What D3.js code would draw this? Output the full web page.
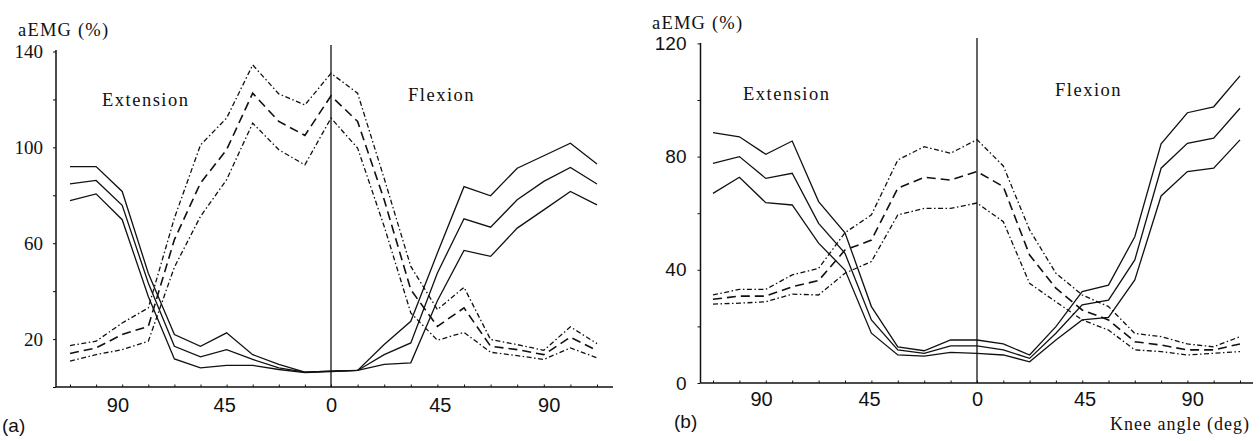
<!DOCTYPE html>
<html>
<head>
<meta charset="utf-8">
<script src="https://cdn.jsdelivr.net/npm/d3@7"></script>
<style>
  body { margin: 0; background: #fff; }
  svg { display: block; }
  .serif { font-family: 'Liberation Serif', 'DejaVu Serif', serif; fill: #111; }
  .sans { font-family: 'Liberation Sans', 'Open Sans', sans-serif; fill: #111; }
</style>
</head>
<body>
<svg id="chart"></svg>
<script>
// knee angle: negative = extension side, positive = flexion side
const angles = [-110, -99, -88, -77, -66, -55, -44, -33, -22, -11, 0,
  11, 22, 33, 44, 55, 66, 77, 88, 99, 110];
const xTickValues = [-90, -45, 0, 45, 90];

// panel (a)
const aYTicks = [0, 20, 40, 60, 80, 100, 120, 140];
const aYLabels = [20, 60, 100, 140];
const aSolidUpper = [92.0, 92.0, 81.6, 47.5, 21.9, 17.0, 22.6, 13.5, 9.4, 6.2, 6.6, 6.9, 17.7, 27.4, 55.9, 83.6, 79.8, 91.3, 96.5, 101.7, 93.1];
const aSolidMean = [84.8, 86.2, 75.8, 43.4, 17.0, 12.6, 15.6, 11.5, 8.0, 6.2, 6.6, 6.9, 13.5, 18.4, 47.6, 70.2, 66.7, 78.1, 85.8, 91.6, 84.7];
const aSolidLower = [77.8, 80.6, 69.8, 37.8, 11.7, 8.0, 9.0, 9.0, 7.3, 6.0, 6.4, 6.9, 9.4, 10.1, 36.0, 57.0, 54.5, 66.3, 73.9, 81.6, 76.0];
const aDashUpper = [17.3, 19.1, 26.7, 33.0, 70.5, 101.0, 112.2, 134.4, 122.3, 117.7, 130.9, 122.6, 87.0, 50.3, 32.3, 41.6, 19.8, 17.7, 15.3, 25.1, 18.1];
const aDashMean = [14.0, 16.3, 21.9, 25.3, 61.5, 85.1, 99.0, 122.6, 110.8, 105.0, 121.5, 110.8, 78.1, 40.6, 25.3, 33.0, 17.0, 15.6, 13.5, 20.8, 15.2];
const aDashLower = [10.8, 13.5, 15.6, 19.1, 50.0, 71.2, 86.5, 110.1, 99.0, 92.7, 112.2, 99.7, 67.0, 30.9, 19.5, 22.8, 14.5, 13.1, 11.5, 16.3, 12.2];

// panel (b)
const bYTicks = [0, 20, 40, 60, 80, 100, 120];
const bYLabels = [0, 40, 80, 120];
const bSolidUpper = [88.5, 87.0, 80.8, 85.5, 64.1, 53.1, 27.0, 12.8, 11.4, 15.2, 15.2, 13.8, 9.9, 19.9, 32.3, 34.6, 51.7, 84.5, 95.5, 97.6, 108.5];
const bSolidMean = [77.6, 80.0, 72.3, 74.1, 56.4, 45.8, 22.3, 11.7, 10.5, 13.1, 13.1, 11.7, 8.7, 17.6, 27.6, 29.3, 43.5, 75.9, 84.7, 86.5, 97.1];
const bSolidLower = [67.0, 72.7, 63.7, 62.9, 49.4, 39.9, 17.6, 9.9, 9.5, 10.8, 10.5, 9.9, 7.5, 15.2, 22.3, 23.2, 36.4, 66.1, 74.7, 75.9, 85.9];
const bDashUpper = [31.1, 33.1, 33.1, 38.2, 40.5, 53.1, 59.4, 78.8, 83.5, 81.2, 86.0, 76.7, 54.1, 38.8, 31.1, 27.0, 17.5, 16.4, 13.8, 12.8, 16.4];
const bDashMean = [29.6, 30.7, 30.7, 34.0, 36.2, 47.0, 50.5, 68.8, 72.7, 71.7, 74.7, 69.4, 45.2, 33.5, 25.8, 22.3, 14.6, 13.4, 11.7, 11.7, 13.8];
const bDashLower = [27.9, 28.2, 28.7, 31.4, 31.1, 38.8, 42.9, 59.4, 61.7, 61.7, 63.6, 57.0, 35.2, 28.7, 22.3, 18.7, 11.7, 11.1, 9.9, 10.5, 11.1];

const width = 1260;
const height = 441;

const svg = d3.select('#chart').attr('width', width).attr('height', height);

// line styles: solid band, dash-dot band edges, dashed mean
const styles = {
  solid: null,
  dashdot: '5,2.5,1.5,2.5',
  dashed: '9,5',
};

function drawPanel(p) {
  const g = svg.append('g');

  const x = d3.scaleLinear().domain([-110, 0, 110]).range(p.xRange);
  const y = d3.scaleLinear().domain(p.yDomain).range(p.yRange);

  // axis lines
  g.append('line')
    .attr('x1', p.axisX).attr('x2', p.axisX)
    .attr('y1', p.axisTop).attr('y2', y(0))
    .attr('stroke', '#111').attr('stroke-width', 1.5);
  g.append('line')
    .attr('x1', p.axisX).attr('x2', p.axisRight)
    .attr('y1', y(0)).attr('y2', y(0))
    .attr('stroke', '#111').attr('stroke-width', 1.5);

  // vertical line at 0 deg
  g.append('line')
    .attr('x1', x(0)).attr('x2', x(0))
    .attr('y1', p.zeroTop).attr('y2', y(0))
    .attr('stroke', '#111').attr('stroke-width', 1.3);

  // y ticks
  const yAxis = d3.axisLeft(y)
    .tickValues(p.yTicks)
    .tickSize(3)
    .tickPadding(p.yPad)
    .tickFormat((d) => (p.yLabels.includes(d) ? d : ''));
  const yg = g.append('g')
    .attr('transform', `translate(${p.axisX},0)`)
    .call(yAxis);
  yg.select('.domain').remove();
  yg.selectAll('line').attr('stroke', '#111');
  yg.selectAll('text')
    .attr('class', p.yFontClass)
    .style('font-size', '19px')
    .attr('fill', '#111');

  // small marks along x axis at the measured angles
  const markAxis = d3.axisBottom(x).tickValues(angles).tickSize(-2.5).tickFormat('');
  const mg = g.append('g').attr('transform', `translate(0,${y(0)})`).call(markAxis);
  mg.select('.domain').remove();
  mg.selectAll('line').attr('stroke', '#111');

  // x tick labels (absolute angle on both sides)
  const xAxis = d3.axisBottom(x)
    .tickValues(xTickValues)
    .tickSize(0)
    .tickPadding(p.xPad)
    .tickFormat((d) => Math.abs(d));
  const xg = g.append('g')
    .attr('transform', `translate(0,${y(0)})`)
    .call(xAxis);
  xg.select('.domain').remove();
  xg.selectAll('text')
    .attr('class', 'sans')
    .style('font-size', '20px')
    .attr('fill', '#111');

  // the six lines
  const line = d3.line()
    .x((d, i) => x(angles[i]))
    .y((d) => y(d));

  p.series.forEach((s) => {
    g.append('path')
      .datum(s.values)
      .attr('fill', 'none')
      .attr('stroke', '#111')
      .attr('stroke-width', s.style === 'dashed' ? 1.6 : 1.3)
      .attr('stroke-linejoin', 'miter')
      .attr('stroke-dasharray', styles[s.style])
      .attr('d', line);
  });

  // texts
  g.append('text').attr('class', 'serif')
    .attr('x', p.titleX).attr('y', p.titleY)
    .style('font-size', '18.5px').style('letter-spacing', '1.2px')
    .text('aEMG (%)');
  g.append('text').attr('class', 'serif')
    .attr('x', p.extX).attr('y', p.extY)
    .style('font-size', '18.5px').style('letter-spacing', '1.5px')
    .text('Extension');
  g.append('text').attr('class', 'serif')
    .attr('x', p.flexX).attr('y', p.flexY)
    .style('font-size', '18.5px').style('letter-spacing', '1.5px')
    .text('Flexion');
  g.append('text').attr('class', 'sans')
    .attr('x', p.tagX).attr('y', p.tagY)
    .style('font-size', '19px')
    .text(p.tag);
}

drawPanel({
  xRange: [70, 331, 597],
  yDomain: [0, 140],
  yRange: [387, 51.5],
  axisX: 56,
  axisTop: 50,
  axisRight: 613,
  zeroTop: 45,
  yTicks: aYTicks,
  yLabels: aYLabels,
  yPad: 10,
  yFontClass: 'serif',
  xPad: 11,
  series: [
    { values: aSolidUpper, style: 'solid' },
    { values: aSolidMean, style: 'solid' },
    { values: aSolidLower, style: 'solid' },
    { values: aDashUpper, style: 'dashdot' },
    { values: aDashMean, style: 'dashed' },
    { values: aDashLower, style: 'dashdot' },
  ],
  titleX: 18, titleY: 36,
  extX: 102, extY: 106,
  flexX: 408, flexY: 101,
  tagX: 2, tagY: 432, tag: '(a)',
});

drawPanel({
  xRange: [713, 977, 1240],
  yDomain: [0, 120],
  yRange: [383, 43.4],
  axisX: 700.5,
  axisTop: 43,
  axisRight: 1253,
  zeroTop: 38,
  yTicks: bYTicks,
  yLabels: bYLabels,
  yPad: 11,
  yFontClass: 'sans',
  xPad: 9,
  series: [
    { values: bSolidUpper, style: 'solid' },
    { values: bSolidMean, style: 'solid' },
    { values: bSolidLower, style: 'solid' },
    { values: bDashUpper, style: 'dashdot' },
    { values: bDashMean, style: 'dashed' },
    { values: bDashLower, style: 'dashdot' },
  ],
  titleX: 652, titleY: 29,
  extX: 743, extY: 100,
  flexX: 1055, flexY: 96,
  tagX: 674, tagY: 428, tag: '(b)',
});

// x axis title, panel (b) only
svg.append('text').attr('class', 'serif')
  .attr('x', 1110).attr('y', 430)
  .style('font-size', '18px').style('letter-spacing', '1px')
  .text('Knee angle (deg)');
</script>
</body>
</html>
